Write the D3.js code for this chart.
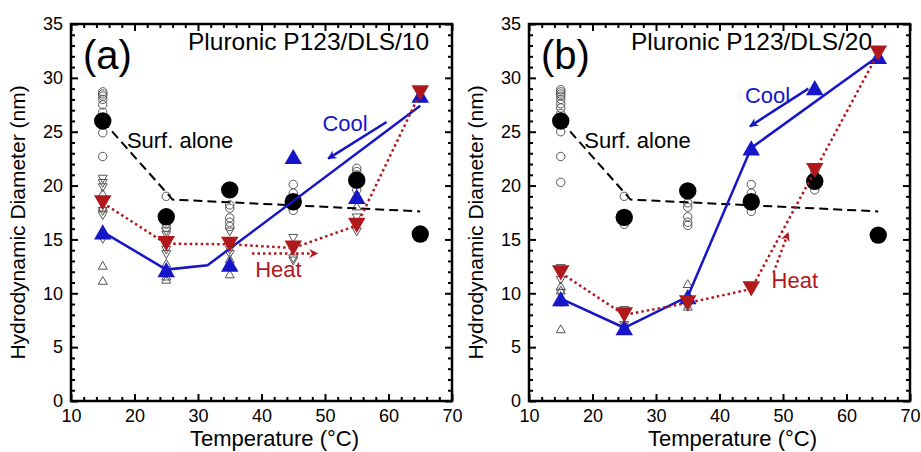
<!DOCTYPE html>
<html>
<head>
<meta charset="utf-8">
<script src="https://cdn.jsdelivr.net/npm/d3@7"></script>
<style>
  body { margin: 0; background: #fff; }
  text { font-family: "Liberation Sans", Arial, Helvetica, sans-serif; }
</style>
</head>
<body>
<div id="chart"></div>
<script>
// temperatures measured (°C)
var temps = [15, 25, 35, 45, 55, 65];

// panel (a): Pluronic P123/DLS/10
var surfA = [26.0, 17.1, 19.6, 18.5, 20.5, 15.5];
var heatA = [18.4, 14.6, 14.55, 14.2, 16.3, 28.6];
var coolA = [15.7, 12.2, 12.7, 22.7, 19.0, 28.4];
var surfFitA = [[15, 26.0], [26, 18.7], [65, 17.6]];
var heatLineA = [[15, 18.4], [25, 14.6], [35, 14.55], [45, 14.2], [55, 16.3], [65, 28.6]];
var coolLineA = [[15, 15.7], [25, 12.2], [31.5, 12.6], [65, 27.4]];
var openCircA = [
  [15, 28.7], [15, 28.5], [15, 28.3], [15, 28.0], [15, 27.5], [15, 26.8], [15, 24.9], [15, 22.7],
  [25, 19.0], [25, 17.3], [25, 16.9], [25, 16.5], [25, 16.1],
  [35, 18.2], [35, 17.9], [35, 17.0], [35, 16.6], [35, 16.2],
  [45, 20.1], [45, 19.3], [45, 18.7], [45, 18.2], [45, 17.7],
  [55, 21.6], [55, 21.3], [55, 21.0], [55, 19.6]
];
var openDownA = [
  [15, 20.6], [15, 20.2], [15, 19.8], [15, 17.6], [15, 17.2], [15, 15.0],
  [25, 15.7], [25, 15.4], [25, 14.0], [25, 13.6], [25, 11.8],
  [35, 15.7], [35, 14.0], [35, 13.6],
  [45, 15.1], [45, 13.2], [45, 13.0],
  [55, 17.0], [55, 15.7]
];
var openUpA = [
  [15, 19.3], [15, 18.0], [15, 12.6], [15, 11.2],
  [25, 12.8], [25, 11.6], [25, 11.3],
  [35, 13.2], [35, 11.8],
  [55, 18.1], [65, 28.2]
];

// panel (b): Pluronic P123/DLS/20
var surfB = [26.0, 17.05, 19.5, 18.5, 20.4, 15.4];
var heatB = [11.9, 8.0, 9.1, 10.4, 21.4, 32.3];
var coolB = [9.5, 6.8, 9.7, 23.5, 29.1, 32.0];
var surfFitB = [[15, 26.0], [26, 18.7], [65, 17.6]];
var heatLineB = [[15, 11.9], [25, 8.0], [35, 9.1], [45, 10.4], [65, 32.3]];
var coolLineB = [[15, 9.5], [25, 6.8], [35, 9.7], [45, 23.5], [65, 32.0]];
var openCircB = [
  [15, 28.9], [15, 28.7], [15, 28.5], [15, 28.3], [15, 28.0], [15, 27.6], [15, 27.2], [15, 26.7],
  [15, 25.0], [15, 22.7], [15, 20.3],
  [25, 19.0], [25, 16.7], [25, 16.4],
  [35, 18.4], [35, 18.0], [35, 17.1], [35, 16.6], [35, 16.3],
  [45, 20.1], [45, 19.3], [45, 18.7], [45, 18.1], [45, 17.6],
  [55, 21.6], [55, 21.3], [55, 19.6]
];
var openDownB = [
  [15, 12.3], [15, 12.0], [15, 11.2], [15, 10.0],
  [25, 8.4], [25, 7.8], [25, 7.0],
  [35, 9.0], [35, 8.7]
];
var openUpB = [
  [15, 10.7], [15, 10.3], [15, 9.2], [15, 6.7],
  [25, 7.2], [25, 6.8],
  [35, 10.9], [35, 8.8]
];

var blue = "#1616c8";
var red = "#b0181c";
var grey = "#555";

var width = 921;
var height = 452;

var svg = d3.select("#chart")
  .append("svg")
    .attr("width", width)
    .attr("height", height);

var panels = [
  {
    left: 71, right: 452, letter: "(a)", title: "Pluronic P123/DLS/10", titleX: 188,
    surf: surfA, heat: heatA, cool: coolA,
    surfFit: surfFitA, heatLine: heatLineA, coolLine: coolLineA,
    openCirc: openCircA, openDown: openDownA, openUp: openUpA,
    // annotation anchors in data units
    surfLabel: [18.8, 23.5],
    coolLabel: [49.6, 25.1], coolArrow: [[59.7, 25.9], [50.5, 22.5]],
    heatLabel: [39.0, 11.5], heatArrow: [[38.5, 13.7], [48.8, 13.7]]
  },
  {
    left: 529, right: 910, letter: "(b)", title: "Pluronic P123/DLS/20", titleX: 631,
    surf: surfB, heat: heatB, cool: coolB,
    surfFit: surfFitB, heatLine: heatLineB, coolLine: coolLineB,
    openCirc: openCircB, openDown: openDownB, openUp: openUpB,
    surfLabel: [18.7, 23.5],
    coolLabel: [44.0, 27.7], coolArrow: [[54.0, 29.0], [44.8, 25.5]],
    heatLabel: [48.2, 10.5], heatArrow: [[48.5, 11.9], [50.8, 15.6]]
  }
];

var plotTop = 24, plotBottom = 401;

var defs = svg.append("defs");
function arrowMarker(id, col) {
  defs.append("marker")
    .attr("id", id)
    .attr("viewBox", "0 0 10 10")
    .attr("refX", 9)
    .attr("refY", 5)
    .attr("markerUnits", "userSpaceOnUse")
    .attr("markerWidth", 11)
    .attr("markerHeight", 9)
    .attr("orient", "auto")
    .append("path")
      .attr("d", "M0,0 L10,5 L0,10 L3,5 Z")
      .attr("fill", col);
}
arrowMarker("arrBlue", blue);
arrowMarker("arrRed", red);

function triPath(size, down) {
  var h = size * 0.87;
  if (down) {
    return "M" + (-size / 2) + "," + (-h / 2) + "L" + (size / 2) + "," + (-h / 2) + "L0," + (h / 2) + "Z";
  }
  return "M" + (-size / 2) + "," + (h / 2) + "L" + (size / 2) + "," + (h / 2) + "L0," + (-h / 2) + "Z";
}

function noDomain(a) { a.select(".domain").remove(); }

panels.forEach(function (p) {
  var x = d3.scaleLinear().domain([10, 70]).range([p.left, p.right]);
  var y = d3.scaleLinear().domain([0, 35]).range([plotBottom, plotTop]);
  var g = svg.append("g");

  var line = d3.line()
    .x(function (d) { return x(d[0]); })
    .y(function (d) { return y(d[1]); });

  // axes with inward ticks
  var xMajor = d3.range(10, 71, 10);
  var yMajor = d3.range(0, 36, 5);
  var xMinor = d3.range(10, 71, 2).filter(function (v) { return v % 10 != 0; });
  var yMinor = d3.range(0, 36, 1).filter(function (v) { return v % 5 != 0; });

  g.append("g")
    .attr("transform", "translate(0," + plotBottom + ")")
    .call(d3.axisBottom(x).tickValues(xMajor).tickSize(-7).tickPadding(8).tickFormat(d3.format("d")))
    .call(noDomain);
  g.append("g")
    .attr("transform", "translate(0," + plotBottom + ")")
    .call(d3.axisBottom(x).tickValues(xMinor).tickSize(-4).tickFormat(""))
    .call(noDomain);
  g.append("g")
    .attr("transform", "translate(0," + plotTop + ")")
    .call(d3.axisTop(x).tickValues(xMajor).tickSize(-7).tickFormat(""))
    .call(noDomain);
  g.append("g")
    .attr("transform", "translate(0," + plotTop + ")")
    .call(d3.axisTop(x).tickValues(xMinor).tickSize(-4).tickFormat(""))
    .call(noDomain);

  g.append("g")
    .attr("transform", "translate(" + p.left + ",0)")
    .call(d3.axisLeft(y).tickValues(yMajor).tickSize(-7).tickPadding(8).tickFormat(d3.format("d")))
    .call(noDomain);
  g.append("g")
    .attr("transform", "translate(" + p.left + ",0)")
    .call(d3.axisLeft(y).tickValues(yMinor).tickSize(-4).tickFormat(""))
    .call(noDomain);
  g.append("g")
    .attr("transform", "translate(" + p.right + ",0)")
    .call(d3.axisRight(y).tickValues(yMajor).tickSize(-7).tickFormat(""))
    .call(noDomain);
  g.append("g")
    .attr("transform", "translate(" + p.right + ",0)")
    .call(d3.axisRight(y).tickValues(yMinor).tickSize(-4).tickFormat(""))
    .call(noDomain);

  g.selectAll(".tick line").attr("stroke", "#000").attr("stroke-width", 2);
  g.selectAll(".tick text").attr("font-size", 18).attr("fill", "#000")
    .style("font-family", "'Liberation Sans', Arial, sans-serif");

  g.append("rect")
    .attr("x", p.left)
    .attr("y", plotTop)
    .attr("width", p.right - p.left)
    .attr("height", plotBottom - plotTop)
    .attr("fill", "none")
    .attr("stroke", "#000")
    .attr("stroke-width", 2.5);

  // axis titles
  g.append("text")
    .attr("x", (p.left + p.right) / 2 + 13)
    .attr("y", 446)
    .attr("text-anchor", "middle")
    .attr("font-size", 22)
    .text("Temperature (°C)");
  g.append("text")
    .attr("transform", "translate(" + (p.left - 46) + "," + ((plotTop + plotBottom) / 2 + 10) + ") rotate(-90)")
    .attr("text-anchor", "middle")
    .attr("font-size", 21)
    .text("Hydrodynamic Diameter (nm)");

  // panel labels
  g.append("text")
    .attr("x", p.left + 12)
    .attr("y", 69)
    .attr("font-size", 40)
    .text(p.letter);
  g.append("text")
    .attr("x", p.titleX)
    .attr("y", 50)
    .attr("font-size", 24.5)
    .text(p.title);

  // open markers (individual runs)
  g.append("g").selectAll("circle")
    .data(p.openCirc)
    .join("circle")
      .attr("cx", function (d) { return x(d[0]); })
      .attr("cy", function (d) { return y(d[1]); })
      .attr("r", 4.2)
      .attr("fill", "none")
      .attr("stroke", grey)
      .attr("stroke-width", 1);
  g.append("g").selectAll("path")
    .data(p.openDown)
    .join("path")
      .attr("transform", function (d) { return "translate(" + x(d[0]) + "," + y(d[1]) + ")"; })
      .attr("d", triPath(9, true))
      .attr("fill", "none")
      .attr("stroke", grey)
      .attr("stroke-width", 1);
  g.append("g").selectAll("path")
    .data(p.openUp)
    .join("path")
      .attr("transform", function (d) { return "translate(" + x(d[0]) + "," + y(d[1]) + ")"; })
      .attr("d", triPath(9, false))
      .attr("fill", "none")
      .attr("stroke", grey)
      .attr("stroke-width", 1);

  // surfactant alone
  g.append("path")
    .datum(p.surfFit)
    .attr("d", line)
    .attr("fill", "none")
    .attr("stroke", "#000")
    .attr("stroke-width", 2)
    .attr("stroke-dasharray", "9 5");
  g.append("g").selectAll("circle")
    .data(p.surf)
    .join("circle")
      .attr("cx", function (d, i) { return x(temps[i]); })
      .attr("cy", function (d) { return y(d); })
      .attr("r", 8.7)
      .attr("fill", "#000");

  // cooling
  g.append("path")
    .datum(p.coolLine)
    .attr("d", line)
    .attr("fill", "none")
    .attr("stroke", blue)
    .attr("stroke-width", 2.5);
  g.append("g").selectAll("path")
    .data(p.cool)
    .join("path")
      .attr("transform", function (d, i) { return "translate(" + x(temps[i]) + "," + y(d) + ")"; })
      .attr("d", triPath(17.5, false))
      .attr("fill", blue);

  // heating
  g.append("path")
    .datum(p.heatLine)
    .attr("d", line)
    .attr("fill", "none")
    .attr("stroke", red)
    .attr("stroke-width", 2.5)
    .attr("stroke-dasharray", "2.5 3");
  g.append("g").selectAll("path")
    .data(p.heat)
    .join("path")
      .attr("transform", function (d, i) { return "translate(" + x(temps[i]) + "," + y(d) + ")"; })
      .attr("d", triPath(17.5, true))
      .attr("fill", red);

  // annotations
  g.append("text")
    .attr("x", x(p.surfLabel[0]))
    .attr("y", y(p.surfLabel[1]))
    .attr("font-size", 22)
    .text("Surf. alone");
  g.append("text")
    .attr("x", x(p.coolLabel[0]))
    .attr("y", y(p.coolLabel[1]))
    .attr("font-size", 22)
    .attr("fill", blue)
    .text("Cool");
  g.append("path")
    .datum(p.coolArrow)
    .attr("d", line)
    .attr("stroke", blue)
    .attr("stroke-width", 2.5)
    .attr("marker-end", "url(#arrBlue)");
  g.append("text")
    .attr("x", x(p.heatLabel[0]))
    .attr("y", y(p.heatLabel[1]))
    .attr("font-size", 22)
    .attr("fill", red)
    .text("Heat");
  g.append("path")
    .datum(p.heatArrow)
    .attr("d", line)
    .attr("stroke", red)
    .attr("stroke-width", 2.5)
    .attr("stroke-dasharray", "2.5 3")
    .attr("marker-end", "url(#arrRed)");
});
</script>
</body>
</html>
